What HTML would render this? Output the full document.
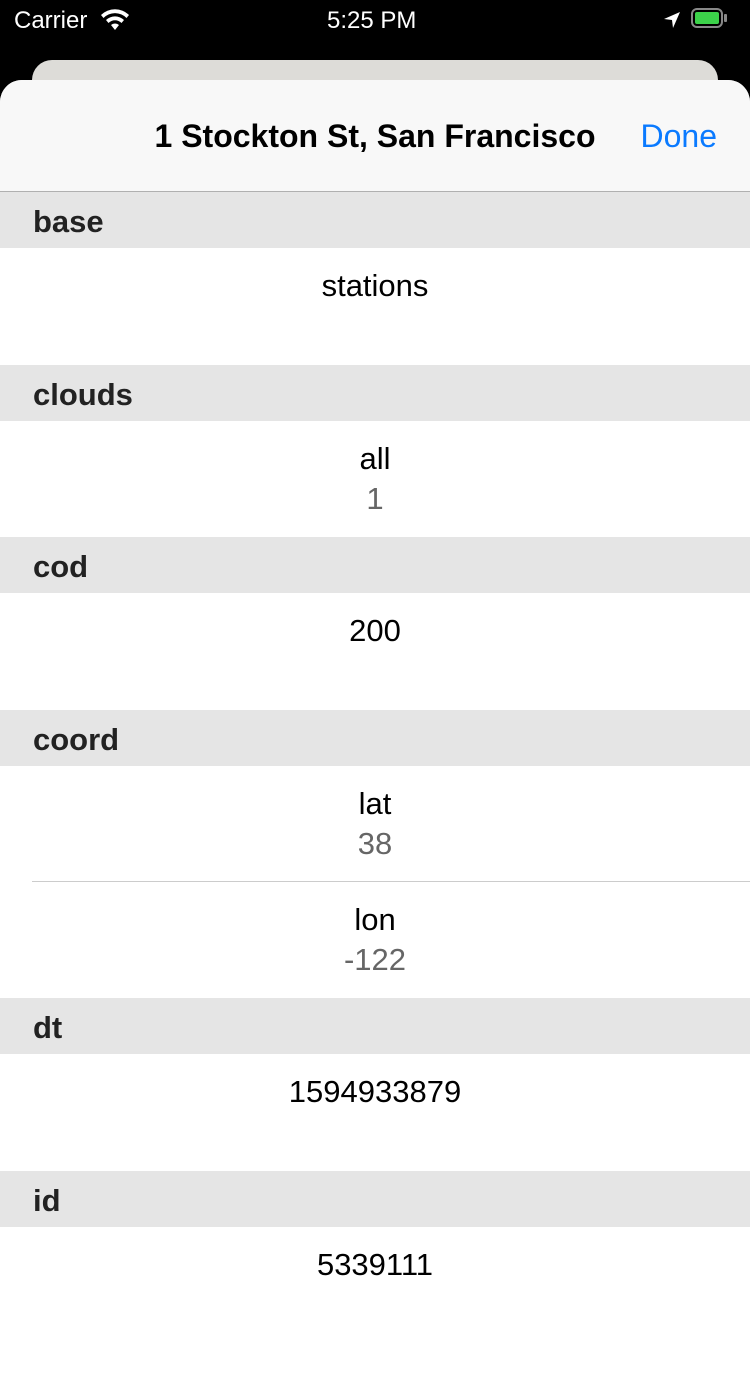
<!DOCTYPE html>
<html><head><style>
body{margin:0;width:750px;height:1334px;overflow:hidden;background:#000;font-family:"Liberation Sans",sans-serif;position:relative}
.sb{position:absolute;top:0;left:0;width:750px;height:40px;color:#fff;font-size:24px}
.card{position:absolute;top:60px;left:32px;width:686px;height:60px;background:#dddcd8;border-radius:20px}
.sheet{position:absolute;top:80px;left:0;width:750px;height:1300px;background:#fff;border-radius:22px 22px 0 0;overflow:hidden}
.nav{height:111px;background:#f8f8f8;border-bottom:1px solid #b0b0b0;position:relative}
.title{position:absolute;top:38px;left:0;width:750px;text-align:center;font-size:32px;font-weight:bold;color:#000}
.done{position:absolute;top:38px;right:33px;font-size:32px;color:#0a7aff}
.h{height:56px;background:#e5e5e5;font-size:31px;font-weight:bold;color:#222;padding-left:33px;padding-top:2px;line-height:56px;box-sizing:border-box}
.r{height:117px;text-align:center;font-size:31px;color:#000;position:relative}
.r .a{position:absolute;top:20px;width:100%}
.r .b{position:absolute;top:60px;width:100%;color:#666}
.div{height:1px;background:#ccc;margin-left:32px}
</style></head><body>
<div class="sb">
<span style="position:absolute;left:14px;top:7px">Carrier</span>
<svg style="position:absolute;left:100px;top:9px" width="30" height="22" viewBox="0 0 30 22"><path d="M15 21 L11 16 A6 6 0 0 1 19 16 Z M6 11 A13 13 0 0 1 24 11 L21.5 14 A9 9 0 0 0 8.5 14Z M1 6 A20 20 0 0 1 29 6 L26.5 9 A16 16 0 0 0 3.5 9Z" fill="#fff"/></svg>
<span style="position:absolute;left:327px;top:7px">5:25 PM</span>
<svg style="position:absolute;left:662px;top:10px" width="20" height="20" viewBox="0 0 20 20"><path d="M18 2 L2 9 L10 10 L11 18Z" fill="#fff"/></svg>
<div style="position:absolute;left:691px;top:8px;width:32px;height:20px;border:2px solid #888;border-radius:6px;box-sizing:border-box"><div style="position:absolute;left:2px;top:2px;width:24px;height:12px;background:#3cd24a;border-radius:2px"></div></div>
<div style="position:absolute;left:724px;top:14px;width:3px;height:8px;background:#888;border-radius:1px"></div>
</div>
<div class="card"></div>
<div class="sheet">
<div class="nav"><div class="title">1 Stockton St, San Francisco</div><div class="done">Done</div></div>
<div class="h">base</div>
<div class="r"><div class="a">stations</div></div>
<div class="h">clouds</div>
<div class="r" style="height:116px"><div class="a">all</div><div class="b">1</div></div>
<div class="h">cod</div>
<div class="r"><div class="a">200</div></div>
<div class="h">coord</div>
<div class="r" style="height:115px"><div class="a">lat</div><div class="b">38</div></div>
<div class="div"></div>
<div class="r" style="height:116px"><div class="a">lon</div><div class="b">-122</div></div>
<div class="h">dt</div>
<div class="r"><div class="a">1594933879</div></div>
<div class="h">id</div>
<div class="r"><div class="a">5339111</div></div>
</div>
</body></html>
